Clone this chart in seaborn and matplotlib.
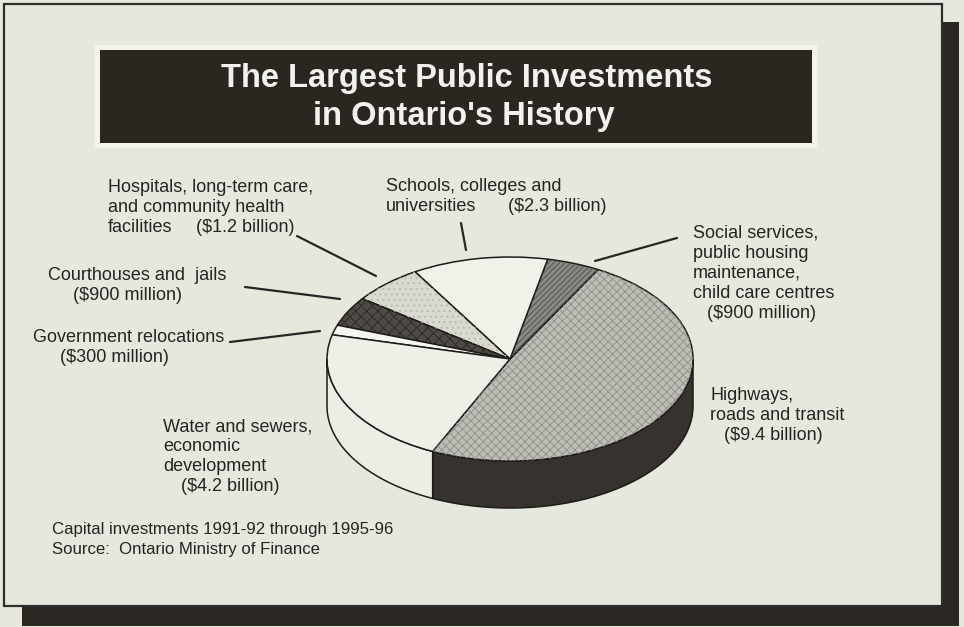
import numpy as np
import matplotlib
matplotlib.use("Agg")
import matplotlib.pyplot as plt
from matplotlib.patches import Rectangle
import seaborn as sns

sns.set_theme(style="white")
plt.rcParams["font.family"] = ["Liberation Sans", "DejaVu Sans"]
plt.rcParams["hatch.linewidth"] = 0.6

# Capital investments 1991-92 to 1995-96, $ billions, counter-clockwise order
categories = [
    "Highways, roads and transit",
    "Social services, public housing maintenance, child care centres",
    "Schools, colleges and universities",
    "Hospitals, long-term care, community health facilities",
    "Courthouses and jails",
    "Government relocations",
    "Water and sewers, economic development",
]
values = [9.4, 0.9, 2.3, 1.2, 0.9, 0.3, 4.2]

# label wording for each category (the amount line is added from values)
label_lines = [
    ["Highways,", "roads and transit"],
    ["Social services,", "public housing", "maintenance,", "child care centres"],
    ["Schools, colleges and", "universities"],
    ["Hospitals, long-term care,", "and community health", "facilities"],
    ["Courthouses and  jails"],
    ["Government relocations"],
    ["Water and sewers,", "economic", "development"],
]

# styling
top_colors = ["#bdbdb5", "#8a8a84", "#f1f1ea", "#d9d9d0", "#4f4a45", "#f6f6f0", "#efefe8"]
hatch_colors = ["#8f8f89", "#4a4a46", "#f1f1ea", "#b5b5ac", "#2a2622", "#f6f6f0", "#efefe8"]
hatches = ["xxxx", "//////", "", "...", "xxx", "", ""]
side_colors = ["#37322d", "#37322d", "#37322d", "#37322d", "#37322d", "#f0f0e9", "#edede6"]
bg = "#e7e8dd"
ink = "#242424"


def amount(v):
    if v >= 1:
        return f"(${v:.1f} billion)"
    return f"(${v * 1000:.0f} million)"


W, H = 964, 627
fig = plt.figure(figsize=(W / 100, H / 100), dpi=100, facecolor=bg)

# ---- page: frame, drop shadow, title banner, labels (pixel coordinates) ----
pg = fig.add_axes([0, 0, 1, 1])
pg.set_xlim(0, W)
pg.set_ylim(H, 0)
pg.axis("off")

shadow = "#2b2722"
pg.add_patch(Rectangle((942, 22), 17, 604, color=shadow, lw=0))
pg.add_patch(Rectangle((22, 606), 937, 20, color=shadow, lw=0))
pg.add_patch(Rectangle((4, 4), 938, 602, facecolor=bg, edgecolor="#2e2e2e", lw=1.6))

pg.add_patch(Rectangle((95, 45), 722, 103, color="#f4f4ee", lw=0))
pg.add_patch(Rectangle((100, 50), 712, 93, color="#2c2621", lw=0))
pg.text(467, 87, "The Largest Public Investments", color="#f2f2ee", fontsize=23.5,
        fontweight="bold", ha="center", va="baseline")
pg.text(464, 125, "in Ontario's History", color="#f2f2ee", fontsize=23.5,
        fontweight="bold", ha="center", va="baseline")

# label placement: (x of text lines, x of amount, baseline of first line)
label_pos = [
    (710, 724, 400),
    (693, 707, 238),
    (386, 508, 191),
    (108, 196, 192),
    (48, 73, 280),
    (33, 60, 342),
    (163, 181, 431),
]
line_gap = 20
fs = 13
for (x, xa, y0), lines, v in zip(label_pos, label_lines, values):
    n = len(lines)
    for i, s in enumerate(lines):
        pg.text(x, y0 + i * line_gap, s, fontsize=fs, color=ink, ha="left", va="baseline")
    # amount shares the last text line when it is set well to the right
    if xa > x + 60:
        pg.text(xa, y0 + (n - 1) * line_gap, amount(v), fontsize=fs, color=ink,
                ha="left", va="baseline")
    else:
        pg.text(xa, y0 + n * line_gap, amount(v), fontsize=fs, color=ink,
                ha="left", va="baseline")

leaders = [
    None,
    ((677, 238), (595, 261)),
    ((461, 223), (466, 250)),
    ((297, 236), (376, 276)),
    ((245, 287), (340, 299)),
    ((230, 342), (320, 331)),
    None,
]
for seg in leaders:
    if seg:
        (x1, y1), (x2, y2) = seg
        pg.plot([x1, x2], [y1, y2], color="#262626", lw=1.6, solid_capstyle="round")

pg.text(52, 534, "Capital investments 1991-92 through 1995-96", fontsize=12.1,
        color=ink, ha="left", va="baseline")
pg.text(52, 554, "Source:  Ontario Ministry of Finance", fontsize=12.1,
        color=ink, ha="left", va="baseline")

# ---- tilted 3-D pie ----
cx, cy, a_px, b_px, thick_px = 510, 359, 183, 102, 47
left_px, right_px, top_px, bot_px = 290, 730, 227, 517
ax = fig.add_axes([left_px / W, 1 - bot_px / H, (right_px - left_px) / W,
                   (bot_px - top_px) / H])
ax.patch.set_alpha(0)

start = 245
wedges, _ = ax.pie(values, startangle=start, counterclock=True, colors=top_colors,
                   radius=1, wedgeprops=dict(edgecolor="#1c1c1c", linewidth=1.1),
                   frame=False)
tex, _ = ax.pie(values, startangle=start, counterclock=True, colors=["none"] * len(values),
                hatch=hatches, radius=1, wedgeprops=dict(linewidth=0), frame=False)
for w, c in zip(tex, hatch_colors):
    w.set_edgecolor(c)
    w.set_linewidth(0)
    w.set_zorder(1.5)
for w in wedges:
    w.set_zorder(1.2)

# front rim: the part of each wedge between 180 and 360 degrees
h = thick_px / b_px
for w, col in zip(wedges, side_colors):
    for k in range(-1, 3):
        lo = max(w.theta1, 180 + 360 * k)
        hi = min(w.theta2, 360 + 360 * k)
        if hi > lo:
            t = np.radians(np.linspace(lo, hi, 120))
            xs = np.concatenate([np.cos(t), np.cos(t[::-1])])
            ys = np.concatenate([np.sin(t), np.sin(t[::-1]) - h])
            ax.fill(xs, ys, facecolor=col, edgecolor="#1c1c1c", lw=1.1, zorder=0.8)

ax.set_aspect("auto")
ax.set_xlim(-(cx - left_px) / a_px, (right_px - cx) / a_px)
ax.set_ylim(-(bot_px - cy) / b_px, (cy - top_px) / b_px)
ax.axis("off")

fig.savefig("out.png", dpi=100, facecolor=bg)
